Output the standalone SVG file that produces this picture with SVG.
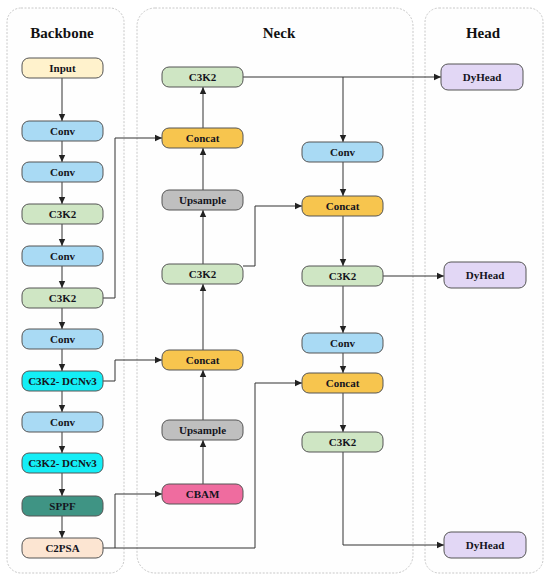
<svg xmlns="http://www.w3.org/2000/svg" width="550" height="580" viewBox="0 0 550 580">
<defs>
<marker id="ah" markerWidth="8" markerHeight="8" refX="7" refY="4" orient="auto" markerUnits="userSpaceOnUse">
<path d="M0,0.8 L7,4 L0,7.2 Z" fill="#222"/>
</marker>
<style>
.panel{fill:#fefefe;stroke:#c8c8c8;stroke-width:1;stroke-dasharray:2 1.5}
.title{font-family:"Liberation Serif",serif;font-weight:bold;font-size:15px;fill:#111;text-anchor:middle}
.n rect{stroke:#555;stroke-width:1}
.n text{font-family:"Liberation Serif",serif;font-weight:bold;font-size:11px;fill:#141420;text-anchor:middle;dominant-baseline:central}
.input rect{fill:#fff2cc}
.conv rect{fill:#a9daf4}
.c3k2 rect{fill:#cfe6c4}
.dcn rect{fill:#14eef6}
.sppf rect{fill:#3f9484}
.c2psa rect{fill:#fce5d2}
.concat rect{fill:#f7c54e}
.ups rect{fill:#bfbfbf}
.cbam rect{fill:#ef6c9f}
.dy rect{fill:#e2d7f5}
#connectors path{fill:none;stroke:#333;stroke-width:1}
</style>
</defs>
<rect width="550" height="580" fill="#ffffff"/>
<g id="panels">
<rect class="panel" x="7" y="8" width="117" height="565" rx="14"/>
<rect class="panel" x="137" y="8" width="276" height="565" rx="18"/>
<rect class="panel" x="425" y="8" width="118" height="565" rx="14"/>
<text class="title" x="62" y="38">Backbone</text>
<text class="title" x="279" y="38">Neck</text>
<text class="title" x="483" y="38">Head</text>
</g>
<g id="connectors">
<path d="M62,78 V121" marker-end="url(#ah)"/>
<path d="M62,141 V162" marker-end="url(#ah)"/>
<path d="M62,182 V204" marker-end="url(#ah)"/>
<path d="M62,224 V246" marker-end="url(#ah)"/>
<path d="M62,266 V288" marker-end="url(#ah)"/>
<path d="M62,308 V329" marker-end="url(#ah)"/>
<path d="M62,349 V371" marker-end="url(#ah)"/>
<path d="M62,391 V412" marker-end="url(#ah)"/>
<path d="M62,432 V453" marker-end="url(#ah)"/>
<path d="M62,473 V496" marker-end="url(#ah)"/>
<path d="M62,516 V538" marker-end="url(#ah)"/>
<path d="M103,298 H115 V138 H162" marker-end="url(#ah)"/>
<path d="M103,381 H115 V360 H162" marker-end="url(#ah)"/>
<path d="M103,548 H115 V494 H162" marker-end="url(#ah)"/>
<path d="M115,548 H255 V383 H302" marker-end="url(#ah)"/>
<path d="M203,484 V440" marker-end="url(#ah)"/>
<path d="M203,420 V370" marker-end="url(#ah)"/>
<path d="M203,350 V284" marker-end="url(#ah)"/>
<path d="M203,264 V210" marker-end="url(#ah)"/>
<path d="M243,266 H255 V206 H302" marker-end="url(#ah)"/>
<path d="M203,190 V148" marker-end="url(#ah)"/>
<path d="M203,128 V87" marker-end="url(#ah)"/>
<path d="M243,77 H441" marker-end="url(#ah)"/>
<path d="M343,77 V142" marker-end="url(#ah)"/>
<path d="M343,162 V196" marker-end="url(#ah)"/>
<path d="M343,216 V266" marker-end="url(#ah)"/>
<path d="M383,276 H444" marker-end="url(#ah)"/>
<path d="M343,286 V333" marker-end="url(#ah)"/>
<path d="M343,353 V373" marker-end="url(#ah)"/>
<path d="M343,393 V432" marker-end="url(#ah)"/>
<path d="M343,452 V545 H444" marker-end="url(#ah)"/>
</g>
<g id="b-input" class="n input"><rect x="22" y="58" width="81" height="20" rx="7"/><text x="62.5" y="68">Input</text></g>
<g id="b-conv1" class="n conv"><rect x="22" y="121" width="81" height="20" rx="7"/><text x="62.5" y="131">Conv</text></g>
<g id="b-conv2" class="n conv"><rect x="22" y="162" width="81" height="20" rx="7"/><text x="62.5" y="172">Conv</text></g>
<g id="b-c3k2a" class="n c3k2"><rect x="22" y="204" width="81" height="20" rx="7"/><text x="62.5" y="214">C3K2</text></g>
<g id="b-conv3" class="n conv"><rect x="22" y="246" width="81" height="20" rx="7"/><text x="62.5" y="256">Conv</text></g>
<g id="b-c3k2b" class="n c3k2"><rect x="22" y="288" width="81" height="20" rx="7"/><text x="62.5" y="298">C3K2</text></g>
<g id="b-conv4" class="n conv"><rect x="22" y="329" width="81" height="20" rx="7"/><text x="62.5" y="339">Conv</text></g>
<g id="b-dcn1" class="n dcn"><rect x="22" y="371" width="81" height="20" rx="7"/><text x="62.5" y="381">C3K2- DCNv3</text></g>
<g id="b-conv5" class="n conv"><rect x="22" y="412" width="81" height="20" rx="7"/><text x="62.5" y="422">Conv</text></g>
<g id="b-dcn2" class="n dcn"><rect x="22" y="453" width="81" height="20" rx="7"/><text x="62.5" y="463">C3K2- DCNv3</text></g>
<g id="b-sppf" class="n sppf"><rect x="22" y="496" width="81" height="20" rx="7"/><text x="62.5" y="506">SPPF</text></g>
<g id="b-c2psa" class="n c2psa"><rect x="22" y="538" width="81" height="20" rx="7"/><text x="62.5" y="548">C2PSA</text></g>
<g id="n-c3k2-top" class="n c3k2"><rect x="162" y="67" width="81" height="20" rx="7"/><text x="202.5" y="77">C3K2</text></g>
<g id="n-concat1" class="n concat"><rect x="162" y="128" width="81" height="20" rx="7"/><text x="202.5" y="138">Concat</text></g>
<g id="n-ups1" class="n ups"><rect x="162" y="190" width="81" height="20" rx="7"/><text x="202.5" y="200">Upsample</text></g>
<g id="n-c3k2-mid" class="n c3k2"><rect x="162" y="264" width="81" height="20" rx="7"/><text x="202.5" y="274">C3K2</text></g>
<g id="n-concat2" class="n concat"><rect x="162" y="350" width="81" height="20" rx="7"/><text x="202.5" y="360">Concat</text></g>
<g id="n-ups2" class="n ups"><rect x="162" y="420" width="81" height="20" rx="7"/><text x="202.5" y="430">Upsample</text></g>
<g id="n-cbam" class="n cbam"><rect x="162" y="484" width="81" height="20" rx="7"/><text x="202.5" y="494">CBAM</text></g>
<g id="n-conv1" class="n conv"><rect x="302" y="142" width="81" height="20" rx="7"/><text x="342.5" y="152">Conv</text></g>
<g id="n-concat3" class="n concat"><rect x="302" y="196" width="81" height="20" rx="7"/><text x="342.5" y="206">Concat</text></g>
<g id="n-c3k2-r1" class="n c3k2"><rect x="302" y="266" width="81" height="20" rx="7"/><text x="342.5" y="276">C3K2</text></g>
<g id="n-conv2" class="n conv"><rect x="302" y="333" width="81" height="20" rx="7"/><text x="342.5" y="343">Conv</text></g>
<g id="n-concat4" class="n concat"><rect x="302" y="373" width="81" height="20" rx="7"/><text x="342.5" y="383">Concat</text></g>
<g id="n-c3k2-r2" class="n c3k2"><rect x="302" y="432" width="81" height="20" rx="7"/><text x="342.5" y="442">C3K2</text></g>
<g id="h-dy1" class="n dy"><rect x="441" y="64" width="82" height="26" rx="7"/><text x="482" y="77">DyHead</text></g>
<g id="h-dy2" class="n dy"><rect x="444" y="262" width="82" height="26" rx="7"/><text x="485" y="275">DyHead</text></g>
<g id="h-dy3" class="n dy"><rect x="444" y="532" width="82" height="26" rx="7"/><text x="485" y="545">DyHead</text></g>
</svg>
